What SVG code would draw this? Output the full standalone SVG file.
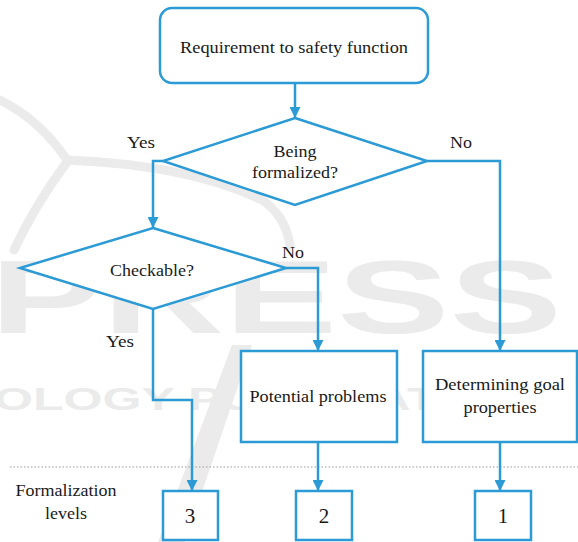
<svg xmlns="http://www.w3.org/2000/svg" width="578" height="542" viewBox="0 0 578 542">
  <defs>
    <marker id="arrow" viewBox="0 0 10 10" refX="10" refY="5" markerWidth="11" markerHeight="11" markerUnits="userSpaceOnUse" orient="auto">
      <path d="M0,0 L10,5 L0,10 Z" fill="#2b9ad5"/>
    </marker>
    <style>
      .shape { fill: #ffffff; stroke: #2b9ad5; stroke-width: 2.5; }
      .edge { fill: none; stroke: #2b9ad5; stroke-width: 2.5; }
      .lbl { font-size: 17.5px; fill: #1a1a1a; text-anchor: middle; }
      .num { font-size: 21px; }
      .wm { fill: #ebebeb; }
      .wm-line { fill: none; stroke: #ebebeb; stroke-width: 9; stroke-linecap: round; }
      .wm-text { font-weight: bold; fill: #ebebeb; }
    </style>
  </defs>
  <rect width="578" height="542" fill="#ffffff"/>

  <!-- faint publisher watermark in the background -->
  <g id="watermark" font-family="Liberation Sans, DejaVu Sans, sans-serif">
    <path class="wm-line" d="M0,100 Q40,120 67,160"/>
    <path class="wm-line" d="M67,160 Q190,165 262,200 Q285,215 290,245"/>
    <path class="wm-line" d="M67,162 Q35,205 14,250"/>
    <text class="wm-text" x="-10" y="333" font-size="103" textLength="572" lengthAdjust="spacingAndGlyphs">PRESS</text>
    <text class="wm-text" x="-6" y="410" font-size="32" textLength="566" lengthAdjust="spacingAndGlyphs">OLOGY PUBLICATIONS</text>
    <polygon class="wm" points="232,345 252,345 185,542 158,542"/>
  </g>

  <!-- level separator -->
  <line x1="10" y1="467" x2="578" y2="467" stroke="#9a9a9a" stroke-width="1" stroke-dasharray="1.5,2"/>

  <!-- labels are given fixed advance widths so any serif face keeps the same footprint -->
  <g font-family="'Liberation Serif', 'Times New Roman', Tinos, 'DejaVu Serif', 'Noto Serif', serif" lengthAdjust="spacingAndGlyphs">
    <g id="connectors">
      <line class="edge" x1="295" y1="83" x2="295" y2="118" marker-end="url(#arrow)"/>
      <polyline class="edge" points="163,161 153,161 153,228" marker-end="url(#arrow)"/>
      <polyline class="edge" points="427,161 500,161 500,351" marker-end="url(#arrow)"/>
      <polyline class="edge" points="286,268 318,268 318,351" marker-end="url(#arrow)"/>
      <polyline class="edge" points="153,309 153,400 192,400 192,491" marker-end="url(#arrow)"/>
      <line class="edge" x1="318" y1="442" x2="318" y2="491" marker-end="url(#arrow)"/>
      <line class="edge" x1="500" y1="442" x2="500" y2="491" marker-end="url(#arrow)"/>
      <text class="lbl" x="141" y="148" textLength="28" lengthAdjust="spacingAndGlyphs">Yes</text>
      <text class="lbl" x="461" y="148" textLength="22" lengthAdjust="spacingAndGlyphs">No</text>
      <text class="lbl" x="293" y="258" textLength="22" lengthAdjust="spacingAndGlyphs">No</text>
      <text class="lbl" x="120" y="347" textLength="28" lengthAdjust="spacingAndGlyphs">Yes</text>
    </g>

    <g id="start">
      <rect class="shape" x="160" y="8" width="268" height="75" rx="12"/>
      <text class="lbl" x="294" y="53" textLength="228" lengthAdjust="spacingAndGlyphs">Requirement to safety function</text>
    </g>

    <g id="formalized">
      <polygon class="shape" points="295,118 427,161 295,205 163,161"/>
      <text class="lbl" x="295" y="157" textLength="43" lengthAdjust="spacingAndGlyphs">Being</text>
      <text class="lbl" x="295" y="178" textLength="86" lengthAdjust="spacingAndGlyphs">formalized?</text>
    </g>

    <g id="checkable">
      <polygon class="shape" points="153,228 286,268 153,309 20,268"/>
      <text class="lbl" x="152" y="276" textLength="84" lengthAdjust="spacingAndGlyphs">Checkable?</text>
    </g>

    <g id="problems">
      <rect class="shape" x="241" y="351" width="156" height="91"/>
      <text class="lbl" x="318" y="402" textLength="137" lengthAdjust="spacingAndGlyphs">Potential problems</text>
    </g>

    <g id="goal">
      <rect class="shape" x="423" y="351" width="154" height="91"/>
      <text class="lbl" x="500" y="390" textLength="130" lengthAdjust="spacingAndGlyphs">Determining goal</text>
      <text class="lbl" x="500" y="413" textLength="73" lengthAdjust="spacingAndGlyphs">properties</text>
    </g>

    <g id="levels-label">
      <text class="lbl" x="66" y="496" textLength="101" lengthAdjust="spacingAndGlyphs">Formalization</text>
      <text class="lbl" x="66" y="519" textLength="42" lengthAdjust="spacingAndGlyphs">levels</text>
    </g>

    <g id="level-3">
      <rect class="shape" x="163" y="491" width="55" height="49"/>
      <text class="lbl num" x="190" y="523">3</text>
    </g>
    <g id="level-2">
      <rect class="shape" x="296" y="491" width="56" height="49"/>
      <text class="lbl num" x="324" y="523">2</text>
    </g>
    <g id="level-1">
      <rect class="shape" x="475" y="491" width="56" height="49"/>
      <text class="lbl num" x="503" y="523">1</text>
    </g>
  </g>
</svg>
